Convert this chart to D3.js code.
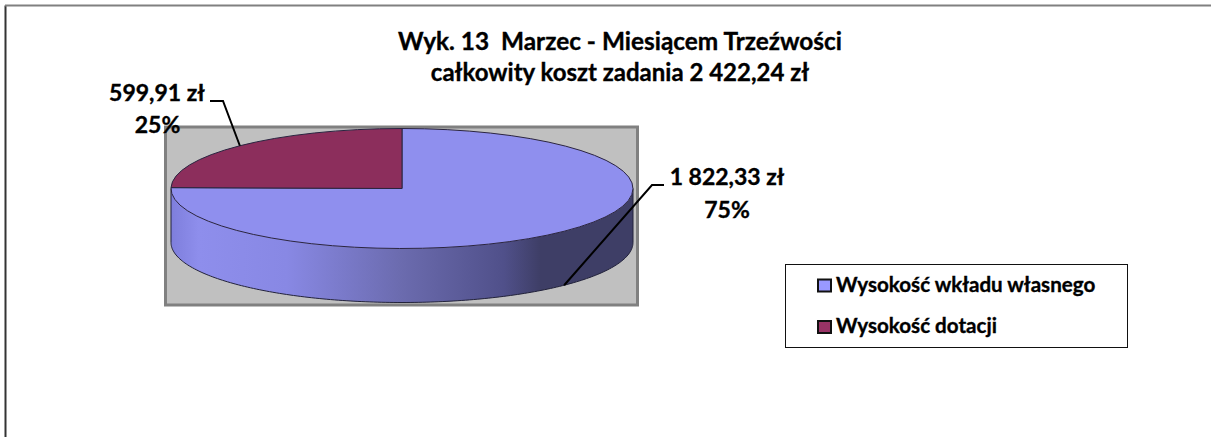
<!DOCTYPE html>
<html><head><meta charset="utf-8">
<script src="https://cdn.jsdelivr.net/npm/d3@7"></script>
<style>html,body{margin:0;background:#fff}svg{display:block}text{font-family:Lato,Carlito,sans-serif;font-weight:700;fill:#000;stroke:#000;stroke-width:.35px}</style>
</head><body><svg id="c" width="1211" height="437"></svg>
<script>
const categories = ["Wysokość wkładu własnego", "Wysokość dotacji"];
const values = [1822.33, 599.91];
const valueLabels = ["1 822,33 zł", "599,91 zł"];
const percentLabels = ["75%", "25%"];
const colors = ["#8F8FEE", "#8C2E5C"];
const legendColors = ["#9999FF", "#993366"];
const titleLines = ["Wyk. 13  Marzec - Miesiącem Trzeźwości", "całkowity koszt zadania 2 422,24 zł"];

const svg = d3.select("#c");
const W = 1211, H = 437;
// frame
svg.append("path").attr("d", `M5.5 ${H}V5.5`).attr("stroke", "#333").attr("stroke-width", 2).attr("fill", "none");
svg.append("path").attr("d", `M5 5.5H${W}`).attr("stroke", "#808080").attr("stroke-width", 2).attr("fill", "none");

// plot area
svg.append("rect").attr("x", 165.5).attr("y", 127).attr("width", 472).attr("height", 178)
  .attr("fill", "#C0C0C0").attr("stroke", "#808080").attr("stroke-width", 3);

// pie geometry
const cx = 402, cy = 188.5, rx = 231, ry = 60, depth = 54;
const defs = svg.append("defs");
const grad = defs.append("linearGradient").attr("id", "side").attr("gradientUnits", "userSpaceOnUse")
  .attr("x1", cx - rx).attr("x2", cx + rx).attr("y1", 0).attr("y2", 0);
[[0, "#7E7EDC"], [0.06, "#8E8EEC"], [0.25, "#8888E4"], [0.5, "#6B6BAE"], [0.72, "#50508A"], [0.8, "#3E3E66"], [1, "#3E3E66"]]
  .forEach(([o, c]) => grad.append("stop").attr("offset", o).attr("stop-color", c));

const pie = d3.pie().sort(null).value(d => d);
const slices = pie(values);
const toX = a => cx + rx * Math.sin(a);
const toY = a => cy - ry * Math.cos(a);

// side wall (front half of the ellipse, extruded down)
const front = d3.range(0, 181).map(i => Math.PI / 2 + i / 180 * Math.PI);
const wall = d3.area().x(a => toX(a)).y0(a => toY(a)).y1(a => toY(a) + depth);
svg.append("path").attr("d", wall(front)).attr("fill", "url(#side)");
const edge = d3.line().x(a => toX(a)).y(a => toY(a) + depth);
svg.append("path").attr("d", edge(front)).attr("fill", "none").attr("stroke", "#22223a").attr("stroke-width", 1);
svg.append("path").attr("d", `M${cx - rx} ${cy}v${depth}M${cx + rx} ${cy}v${depth}`).attr("stroke", "#22223a").attr("fill", "none");

// top face
const arc = d3.arc().innerRadius(0).outerRadius(rx);
svg.append("g").attr("transform", `translate(${cx},${cy}) scale(1,${ry / rx})`)
  .selectAll("path").data(slices).join("path")
  .attr("d", arc).attr("fill", (d, i) => colors[i])
  .attr("stroke", "#2a2440").attr("stroke-width", 1).attr("vector-effect", "non-scaling-stroke");

// leader lines, anchored on the slice mid-angles
const mid = d => (d.startAngle + d.endAngle) / 2;
const a0 = mid(slices[0]), a1 = mid(slices[1]);
svg.append("path").attr("fill", "none").attr("stroke", "#000").attr("stroke-width", 2)
  .attr("d", d3.line()([[toX(a0), toY(a0) + depth], [652, 185], [664, 185]]));
svg.append("path").attr("fill", "none").attr("stroke", "#000").attr("stroke-width", 2)
  .attr("d", d3.line()([[toX(a1), toY(a1)], [223, 101], [210, 101]]));

// title
svg.append("text").attr("x", 620).attr("y", 49.5).attr("text-anchor", "middle").attr("font-size", 24.4).style("white-space", "pre").text(titleLines[0]);
svg.append("text").attr("x", 620).attr("y", 81).attr("text-anchor", "middle").attr("font-size", 24).text(titleLines[1]);

// data labels
[[727, 185, 727, 218], [157, 101, 157.5, 133]].forEach((l, i) => {
  svg.append("text").attr("x", l[0]).attr("y", l[1]).attr("text-anchor", "middle").attr("font-size", 23).text(valueLabels[i]);
  svg.append("text").attr("x", l[2]).attr("y", l[3]).attr("text-anchor", "middle").attr("font-size", 23).text(percentLabels[i]);
});

// legend
svg.append("rect").attr("x", 785.5).attr("y", 264.5).attr("width", 342).attr("height", 83).attr("fill", "#fff").attr("stroke", "#111").attr("stroke-width", 1);
const ly = d3.scalePoint().domain(categories).range([285.5, 327]);
const leg = svg.append("g").selectAll("g").data(categories).join("g").attr("transform", d => `translate(0,${ly(d)})`);
leg.append("rect").attr("x", 818).attr("y", -6).attr("width", 13).attr("height", 12).attr("fill", (d, i) => legendColors[i]).attr("stroke", "#111").attr("stroke-width", 2);
leg.append("text").attr("x", 836).attr("y", 6).attr("font-size", 20.6).text(d => d);
</script></body></html>
